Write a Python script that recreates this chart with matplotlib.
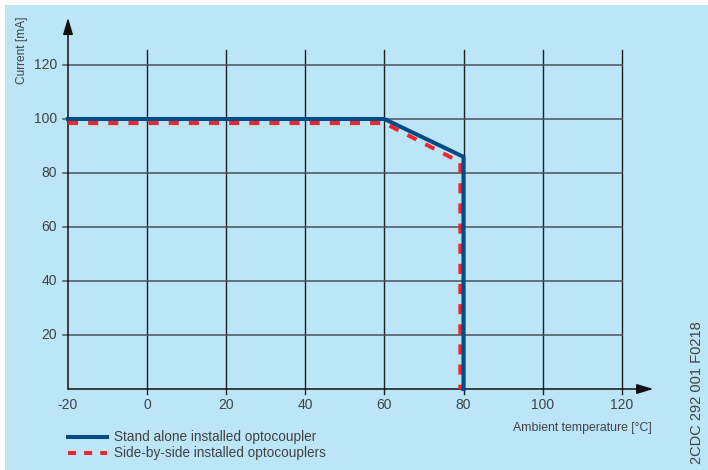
import matplotlib
matplotlib.use("Agg")
import matplotlib.pyplot as plt
from matplotlib.patches import Rectangle

plt.rcParams['font.family'] = ['Liberation Sans', 'DejaVu Sans']

# Derating curves: ambient temperature [°C] vs. current [mA]
temp_stand_alone = [-20, 60, 80, 80]
current_stand_alone = [100, 100, 86, 0]
temp_side_by_side = [-20, 60, 79.2, 79.2]
current_side_by_side = [98.5, 98.5, 84, 0]

x_ticks = [-20, 0, 20, 40, 60, 80, 100, 120]
y_ticks = [20, 40, 60, 80, 100, 120]

label_stand_alone = "Stand alone installed optocoupler"
label_side_by_side = "Side-by-side installed optocouplers"

BG = "#BDE5F8"
TXT = "#404244"
BLUE = "#034A86"
RED = "#EE2630"
VGRID = "#1e1e1e"
HGRID = "#4a545c"

W, H = 708, 470
fig = plt.figure(figsize=(W / 100, H / 100), dpi=100)
fig.patch.set_facecolor("white")
fig.add_artist(Rectangle((5 / W, 0), 1 - 5 / W, (H - 5) / H, transform=fig.transFigure,
                         facecolor=BG, edgecolor="none", zorder=0))

# axes placement: x=-20 at px 68, 3.955 px per unit; y=0 at px 389, 2.7 px per unit
xmin, xmax = -20, 130
ymin, ymax = 0, 140
px_x, px_y = 3.955, 2.7
left = 68 / W
bottom = (H - 389) / H
ax = fig.add_axes([left, bottom, (xmax - xmin) * px_x / W, (ymax - ymin) * px_y / H])
ax.set_xlim(xmin, xmax)
ax.set_ylim(ymin, ymax)
ax.patch.set_alpha(0)
for s in ax.spines.values():
    s.set_visible(False)
ax.set_xticks([])
ax.set_yticks([])

tick_x = 5 / px_x
tick_y = 5 / px_y

# grid lines with outward tick stubs
for xv in x_ticks[1:]:
    ax.plot([xv, xv], [-tick_y, 125.5], color=VGRID, lw=1.0, zorder=1, clip_on=False)
for yv in y_ticks:
    ax.plot([-20 - tick_x, 120], [yv, yv], color=HGRID, lw=1.1, zorder=1, clip_on=False)

# axes with arrows
ax.annotate("", xy=(128, 0), xytext=(-20, 0),
            arrowprops=dict(arrowstyle="-|>,head_length=1.0,head_width=0.3",
                            color="#111111", lw=1.1, shrinkA=0, shrinkB=0),
            annotation_clip=False)
ax.annotate("", xy=(-20, 137.5), xytext=(-20, 0),
            arrowprops=dict(arrowstyle="-|>,head_length=1.0,head_width=0.3",
                            color="#111111", lw=1.1, shrinkA=0, shrinkB=0),
            annotation_clip=False)

# tick labels
for xv in x_ticks:
    ax.text(xv, -16 / px_y, str(xv), ha="center", va="center",
            fontsize=10, color=TXT, clip_on=False)
for yv in y_ticks:
    ax.text(-20 - 11 / px_x, yv, str(yv), ha="right", va="center",
            fontsize=10, color=TXT, clip_on=False)

# curves
ax.plot(temp_side_by_side, current_side_by_side, color=RED, lw=2.9,
        linestyle=(0, (2.5, 2.5)), zorder=3, clip_on=False, solid_joinstyle="miter")
ax.plot(temp_stand_alone, current_stand_alone, color=BLUE, lw=2.9,
        zorder=4, clip_on=False, solid_joinstyle="miter")

# axis titles
fig.text(22 / W, 1 - 50 / H, "Current [mA]", rotation=90, ha="center", va="center",
         fontsize=8.6, color=TXT)
fig.text(652 / W, 1 - 428 / H, "Ambient temperature [°C]", ha="right", va="center",
         fontsize=8.8, color=TXT)
fig.text(697 / W, 1 - 393 / H, "2CDC 292 001 F0218", rotation=90, ha="center",
         va="center", fontsize=10.5, color=TXT)

# legend
fig.add_artist(plt.Line2D([68 / W, 107 / W], [1 - 437 / H] * 2, color=BLUE, lw=2.9,
                          transform=fig.transFigure))
fig.add_artist(plt.Line2D([68 / W, 107 / W], [1 - 453 / H] * 2, color=RED, lw=2.9,
                          linestyle=(0, (2.0, 2.0)), transform=fig.transFigure))
fig.text(114 / W, 1 - 437 / H, label_stand_alone, ha="left", va="center",
         fontsize=9.8, color=TXT)
fig.text(114 / W, 1 - 453 / H, label_side_by_side, ha="left", va="center",
         fontsize=9.8, color=TXT)

fig.savefig("out.png", dpi=100)
